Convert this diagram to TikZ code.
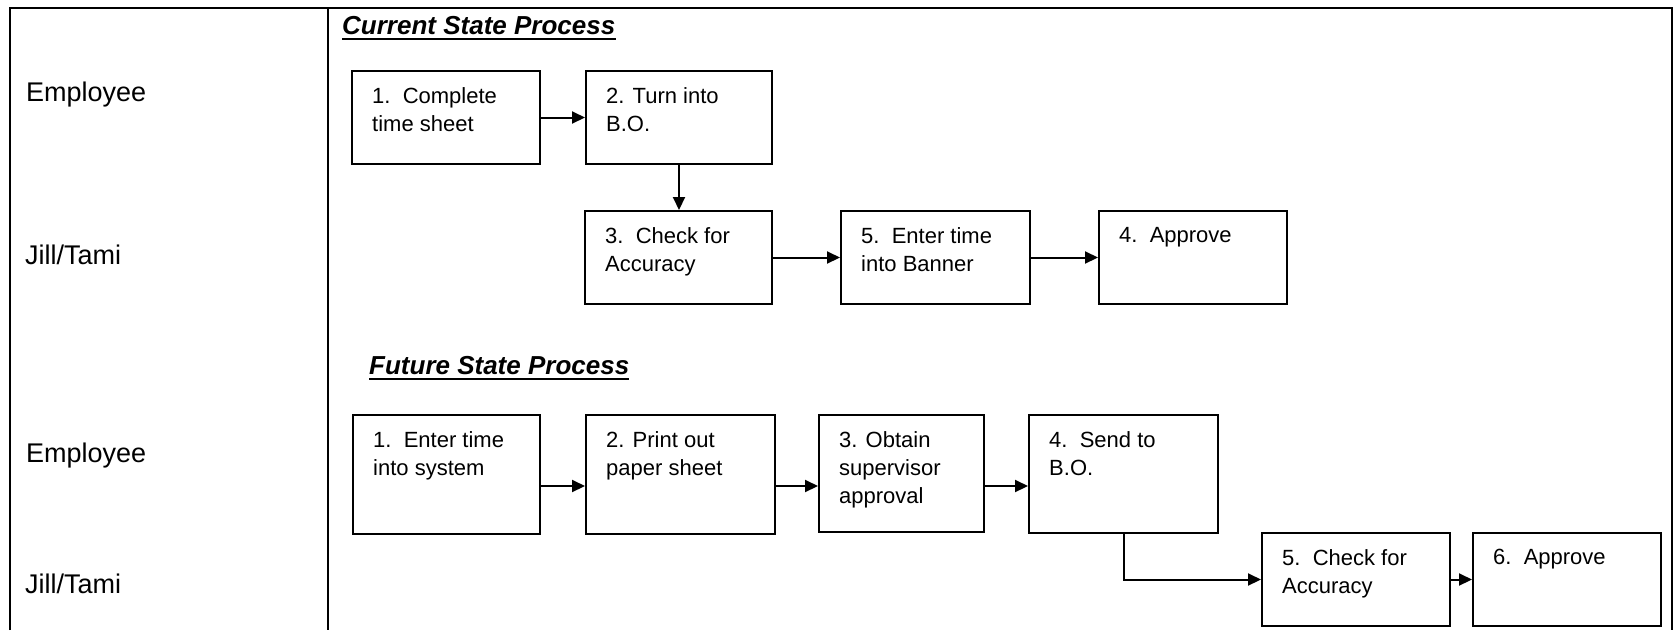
\documentclass[tikz,border=0pt]{standalone}
\usepackage{fontspec}
\setmainfont{Liberation Sans}
\usetikzlibrary{arrows.meta,positioning}

\tikzset{
  lane/.style={font=\fontsize{27}{32}\selectfont, anchor=base west, inner sep=0pt},
  heading/.style={font=\fontsize{26}{30}\selectfont\bfseries\itshape, anchor=base west, inner sep=0pt},
  stepbox/.style 2 args={draw, line width=2pt, anchor=north west, inner sep=0pt,
    minimum width=#1pt, minimum height=#2pt},
  steptext/.style={font=\fontsize{22}{28}\selectfont, align=left, anchor=north west, inner sep=0pt},
  flow/.style={line width=2pt, -{Triangle[length=13pt,width=12pt]}},
}

\begin{document}
\begin{tikzpicture}[x=1pt,y=-1pt]
\useasboundingbox (0,0) rectangle (1677,630);

% Table frame
\draw[line width=2.4pt] (10,630) -- (10,8) -- (1672,8) -- (1672,630);
\draw[line width=2pt] (328,8) -- (328,630);

% Lane names
\node[lane] (emp1) at (26,101) {Employee};
\node[lane] (jt1) at (25,264) {Jill/Tami};
\node[lane] (emp2) at (26,462) {Employee};
\node[lane] (jt2) at (25,593) {Jill/Tami};

% Headings
\node[heading] (cur) at (342,34) {Current State Process};
\draw[line width=2.5pt] ([yshift=-5pt]cur.base west) -- ([yshift=-5pt]cur.base east);
\node[heading] (fut) at (369,374) {Future State Process};
\draw[line width=2.5pt] ([yshift=-5pt]fut.base west) -- ([yshift=-5pt]fut.base east);

% Current state boxes
\node[stepbox={188}{93}] (c1) at (351,70) {};
\node[stepbox={186}{93}] (c2) at (585,70) {};
\node[stepbox={187}{93}] (c3) at (584,210) {};
\node[stepbox={189}{93}] (c5) at (840,210) {};
\node[stepbox={188}{93}] (c4) at (1098,210) {};

\node[steptext] (c1t) at ([shift={(21,17)}]c1.north west) {1.\ \ Complete\\time sheet};
\node[steptext] (c2t) at ([shift={(21,17)}]c2.north west) {2. Turn into\\B.O.};
\node[steptext] (c3t) at ([shift={(21,17)}]c3.north west) {3.\ \ Check for\\Accuracy};
\node[steptext] (c5t) at ([shift={(21,17)}]c5.north west) {5.\ \ Enter time\\into Banner};
\node[steptext] (c4t) at ([shift={(21,17)}]c4.north west) {4.\ \ Approve};

% Current state arrows
\draw[flow] (c1) -- (c2);
\draw[flow] (c2.south) -- (c2.south |- c3.north);
\draw[flow] (c3) -- (c5);
\draw[flow] (c5) -- (c4);

% Future state boxes
\node[stepbox={187}{119}] (f1) at (352,414) {};
\node[stepbox={189}{119}] (f2) at (585,414) {};
\node[stepbox={165}{117}] (f3) at (818,414) {};
\node[stepbox={189}{118}] (f4) at (1028,414) {};
\node[stepbox={188}{93}] (f5) at (1261,532) {};
\node[stepbox={188}{93}] (f6) at (1472,532) {};

\node[steptext] (f1t) at ([shift={(21,17)}]f1.north west) {1.\ \ Enter time\\into system};
\node[steptext] (f2t) at ([shift={(21,17)}]f2.north west) {2. Print out\\paper sheet};
\node[steptext] (f3t) at ([shift={(21,17)}]f3.north west) {3. Obtain\\supervisor\\approval};
\node[steptext] (f4t) at ([shift={(21,17)}]f4.north west) {4.\ \ Send to\\B.O.};
\node[steptext] (f5t) at ([shift={(21,17)}]f5.north west) {5.\ \ Check for\\Accuracy};
\node[steptext] (f6t) at ([shift={(21,17)}]f6.north west) {6.\ \ Approve};

% Future state arrows
\draw[flow] ([yshift=-11.5pt]f1.east) -- ([yshift=-11.5pt]f1.east -| f2.west);
\draw[flow] ([yshift=-11.5pt]f2.east) -- ([yshift=-11.5pt]f2.east -| f3.west);
\draw[flow] ([yshift=-12.5pt]f3.east) -- ([yshift=-12.5pt]f3.east -| f4.west);
\draw[flow] (f4.south) |- (f5.west);
\draw[flow] (f5) -- (f6);
\end{tikzpicture}
\end{document}
